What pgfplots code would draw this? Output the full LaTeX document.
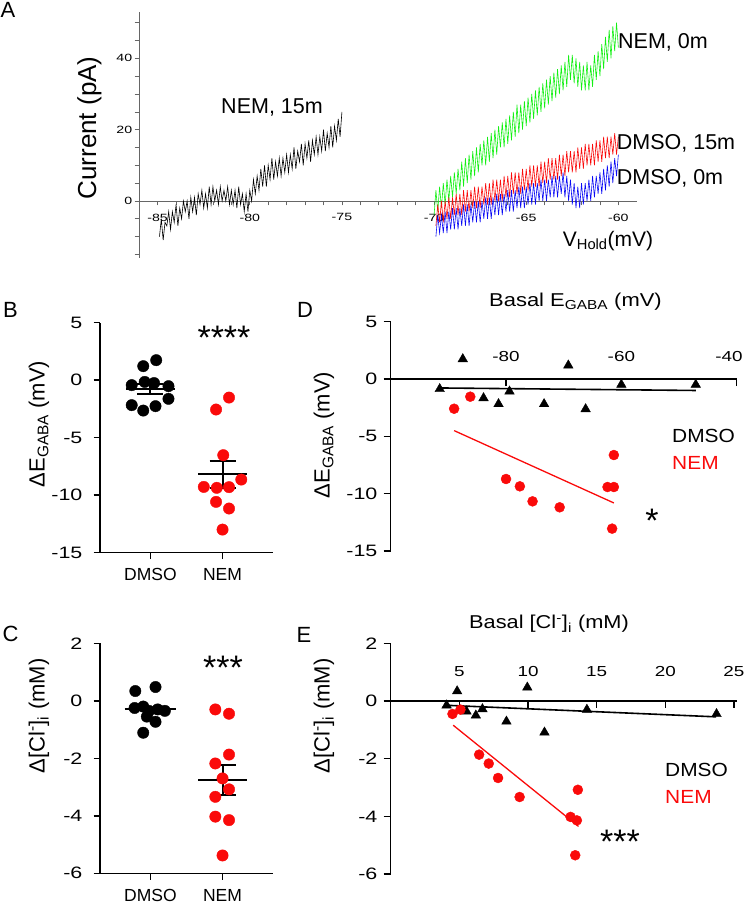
\documentclass[border=0pt]{standalone}
\usepackage{pgfplots}
\pgfplotsset{compat=1.18}
\usepackage{fontspec}
\setmainfont{Liberation Sans}
\newcommand\fs[1]{\fontsize{#1}{#1}\selectfont}
\definecolor{myred}{RGB}{250,10,10}
\definecolor{mygreen}{RGB}{20,240,20}
\definecolor{myblue}{RGB}{10,10,245}
\pgfplotsset{
  every non boxed x axis/.append style={x axis line style={-}},
  every non boxed y axis/.append style={y axis line style={-}},
  common/.style={scale only axis, anchor=south west, clip=false,
    tick style={line width=1.4pt, black},
    /pgf/number format/assume math mode=true,
    tick label style={font=\fs{16.5}, xscale=1.3},
    hide obscured x ticks=false, hide obscured y ticks=false},
  nolinetips/.style={axis line style={line width=1.4pt, black}, x axis line style={-}, y axis line style={-}},
}
\begin{document}
\begin{tikzpicture}[x=1pt,y=1pt]
\useasboundingbox (0,0) rectangle (745,908);

% ---------------- Panel A
\begin{axis}[scale only axis, anchor=south west, at={(139.2pt,650pt)}, width=497.6pt, height=246pt,
  xmin=-86.0, xmax=-59.0, ymin=-16, ymax=53, clip=false,
  axis x line=middle, axis y line=left,
  axis line style={line width=0.6pt, black!60}, x axis line style={-}, y axis line style={-},
  xtick={-85,-80,...,-60}, ytick={0,20,40},
  minor xtick={-84,-83,-82,-81,-79,-78,-77,-76,-74,-73,-72,-71,-69,-68,-67,-66,-64,-63,-62,-61},
  minor ytick={-15,-10,-5,5,10,15,25,30,35,45,50},
  tick align=center, major tick length=4.5pt, minor tick length=4.5pt,
  tick style={line width=0.6pt, black!60},
  x tick style={yshift=-2.25pt}, y tick style={xshift=-2.25pt},
  hide obscured x ticks=false, hide obscured y ticks=false,
  /pgf/number format/assume math mode=true,
  tick label style={font=\fs{10.5}, xscale=1.35},
  xticklabel style={yshift=-7pt},
]
\addplot[mygreen, line width=0.6pt] coordinates {
(-70.0,-4) (-69.9,3) (-69.8,-3) (-69.7,4) (-69.6,-2) (-69.5,5) (-69.4,-1) (-69.3,6) (-69.2,0) (-69.1,7)
(-69.0,1) (-68.9,8) (-68.8,2) (-68.7,9) (-68.6,3) (-68.5,11) (-68.4,4) (-68.3,12) (-68.2,5) (-68.1,13)
(-68.0,6) (-67.9,14) (-67.8,7) (-67.7,15) (-67.6,8) (-67.5,16) (-67.4,10) (-67.3,17) (-67.2,10) (-67.1,18)
(-67.0,11) (-66.9,19) (-66.8,12) (-66.7,20) (-66.6,13) (-66.5,21) (-66.4,15) (-66.3,22) (-66.2,15) (-66.1,23)
(-66.0,16) (-65.9,24) (-65.8,17) (-65.7,25) (-65.6,18) (-65.5,27) (-65.4,19) (-65.3,27) (-65.2,20) (-65.1,28)
(-65.0,21) (-64.9,29) (-64.8,22) (-64.7,30) (-64.6,23) (-64.5,31) (-64.4,24) (-64.3,32) (-64.2,25) (-64.1,33)
(-64.0,26) (-63.9,34) (-63.8,27) (-63.7,35) (-63.6,28) (-63.5,36) (-63.4,29) (-63.3,37) (-63.2,30) (-63.1,38)
(-63.0,31) (-62.9,39) (-62.8,32) (-62.7,41) (-62.6,34) (-62.5,41) (-62.4,33) (-62.3,40) (-62.2,32) (-62.1,39)
(-62.0,31) (-61.9,38) (-61.8,31) (-61.7,39) (-61.6,31) (-61.5,38) (-61.4,32) (-61.3,41) (-61.2,34) (-61.1,42)
(-61.0,35) (-60.9,44) (-60.8,37) (-60.7,46) (-60.6,39) (-60.5,48) (-60.4,40) (-60.3,49) (-60.2,42) (-60.1,50) (-60.0,43)};
\addplot[myred, line width=0.6pt] coordinates {
(-69.9,-7) (-69.8,-1) (-69.7,-6) (-69.6,0) (-69.5,-6) (-69.4,0) (-69.3,-5) (-69.2,1) (-69.1,-5) (-69.0,1)
(-68.9,-4) (-68.8,2) (-68.7,-4) (-68.6,2) (-68.5,-4) (-68.4,3) (-68.3,-3) (-68.2,3) (-68.1,-3) (-68.0,3)
(-67.9,-2) (-67.8,4) (-67.7,-2) (-67.6,4) (-67.5,-2) (-67.4,4) (-67.3,-1) (-67.2,5) (-67.1,-1) (-67.0,5)
(-66.9,-1) (-66.8,6) (-66.7,0) (-66.6,6) (-66.5,0) (-66.4,6) (-66.3,0) (-66.2,7) (-66.1,1) (-66.0,7)
(-65.9,1) (-65.8,8) (-65.7,2) (-65.6,8) (-65.5,2) (-65.4,8) (-65.3,2) (-65.2,9) (-65.1,3) (-65.0,9)
(-64.9,3) (-64.8,10) (-64.7,4) (-64.6,10) (-64.5,4) (-64.4,10) (-64.3,4) (-64.2,11) (-64.1,5) (-64.0,11)
(-63.9,5) (-63.8,12) (-63.7,6) (-63.6,12) (-63.5,6) (-63.4,12) (-63.3,6) (-63.2,13) (-63.1,7) (-63.0,13)
(-62.9,7) (-62.8,14) (-62.7,8) (-62.6,14) (-62.5,8) (-62.4,14) (-62.3,8) (-62.2,15) (-62.1,9) (-62.0,15)
(-61.9,9) (-61.8,16) (-61.7,10) (-61.6,16) (-61.5,10) (-61.4,16) (-61.3,10) (-61.2,17) (-61.1,11) (-61.0,17)
(-60.9,11) (-60.8,18) (-60.7,12) (-60.6,18) (-60.5,12) (-60.4,18) (-60.3,13) (-60.2,19) (-60.1,13) (-60.0,18)};
\addplot[myblue, line width=0.6pt] coordinates {
(-69.9,-10) (-69.8,-4) (-69.7,-9) (-69.6,-4) (-69.5,-9) (-69.4,-3) (-69.3,-9) (-69.2,-3) (-69.1,-8) (-69.0,-2)
(-68.9,-8) (-68.8,-2) (-68.7,-8) (-68.6,-2) (-68.5,-7) (-68.4,-1) (-68.3,-7) (-68.2,-1) (-68.1,-7) (-68.0,-1)
(-67.9,-6) (-67.8,0) (-67.7,-6) (-67.6,0) (-67.5,-6) (-67.4,0) (-67.3,-5) (-67.2,1) (-67.1,-5) (-67.0,1)
(-66.9,-5) (-66.8,1) (-66.7,-4) (-66.6,2) (-66.5,-4) (-66.4,2) (-66.3,-4) (-66.2,2) (-66.1,-3) (-66.0,3)
(-65.9,-3) (-65.8,3) (-65.7,-3) (-65.6,3) (-65.5,-2) (-65.4,4) (-65.3,-2) (-65.2,4) (-65.1,-2) (-65.0,4)
(-64.9,-1) (-64.8,5) (-64.7,-1) (-64.6,5) (-64.5,-1) (-64.4,5) (-64.3,0) (-64.2,6) (-64.1,0) (-64.0,6)
(-63.9,0) (-63.8,6) (-63.7,1) (-63.6,7) (-63.5,1) (-63.4,7) (-63.3,1) (-63.2,7) (-63.1,2) (-63.0,8)
(-62.9,1) (-62.8,7) (-62.7,0) (-62.6,6) (-62.5,-1) (-62.4,5) (-62.3,-2) (-62.2,4) (-62.1,-2) (-62.0,5)
(-61.9,-1) (-61.8,5) (-61.7,0) (-61.6,6) (-61.5,0) (-61.4,7) (-61.3,1) (-61.2,7) (-61.1,2) (-61.0,8)
(-60.9,2) (-60.8,9) (-60.7,3) (-60.6,10) (-60.5,4) (-60.4,11) (-60.3,5) (-60.2,12) (-60.1,7) (-60.0,13)};
\addplot[black, line width=0.6pt] coordinates {
(-84.9,-10) (-84.8,-5) (-84.7,-11) (-84.6,-6) (-84.5,-7) (-84.4,-3) (-84.3,-8) (-84.2,-3) (-84.1,-6) (-84.0,-1)
(-83.9,-7) (-83.8,-2) (-83.7,-5) (-83.6,0) (-83.5,-3) (-83.4,0) (-83.3,-5) (-83.2,1) (-83.1,-3) (-83.0,1)
(-82.9,-4) (-82.8,2) (-82.7,-1) (-82.6,3) (-82.5,-2) (-82.4,2) (-82.3,-2) (-82.2,4) (-82.1,-1) (-82.0,4)
(-81.9,0) (-81.8,3) (-81.7,-1) (-81.6,4) (-81.5,0) (-81.4,3) (-81.3,0) (-81.2,4) (-81.1,-1) (-81.0,3)
(-80.9,-1) (-80.8,3) (-80.7,-2) (-80.6,4) (-80.5,-1) (-80.4,2) (-80.3,-3) (-80.2,2) (-80.1,-3) (-80.0,3)
(-79.9,0) (-79.8,6) (-79.7,2) (-79.6,7) (-79.5,3) (-79.4,9) (-79.3,4) (-79.2,10) (-79.1,4) (-79.0,10)
(-78.9,6) (-78.8,12) (-78.7,6) (-78.6,11) (-78.5,7) (-78.4,12) (-78.3,7) (-78.2,12) (-78.1,8) (-78.0,13)
(-77.9,8) (-77.8,13) (-77.7,9) (-77.6,15) (-77.5,9) (-77.4,14) (-77.3,11) (-77.2,16) (-77.1,10) (-77.0,16)
(-76.9,12) (-76.8,17) (-76.7,11) (-76.6,17) (-76.5,13) (-76.4,18) (-76.3,13) (-76.2,18) (-76.1,14) (-76.0,20)
(-75.9,14) (-75.8,19) (-75.7,15) (-75.6,21) (-75.5,15) (-75.4,21) (-75.3,17) (-75.2,23) (-75.1,18) (-75.0,25)};
\end{axis}

% ---------------- Panel B
\begin{axis}[common, at={(100pt,355.3pt)}, width=173pt, height=230pt,
  xmin=0.3, xmax=2.7, ymin=-15, ymax=5, axis lines=left, nolinetips,
  xtick={1,2}, xticklabels={DMSO,NEM}, ytick={-15,-10,-5,0,5},
  tick align=outside, major tick length=6.5pt,
  yticklabel style={xshift=-5pt},
  xticklabel style={font=\fs{17.5}, xscale=1/1.3, yshift=-6pt}]
\addplot[only marks, mark=*, mark size=5.7pt, black] coordinates {
(0.74,-0.43) (0.9,1.22) (1.08,1.74) (1.25,-0.52) (0.92,-0.15) (1.05,-0.25)
(0.74,-2.17) (0.9,-2.64) (1.07,-2.26) (1.25,-1.62)};
\addplot[only marks, mark=*, mark size=5.7pt, myred, mark options={draw=myred, fill=myred}] coordinates {
(2.09,-1.51) (1.91,-2.55) (2.01,-6.52) (1.74,-9.28) (1.92,-9.36) (2.09,-9.3)
(2.26,-8.64) (1.91,-10.58) (2.09,-11.16) (2.0,-12.99)};
\addplot[black, line width=2pt] coordinates {(0.66,-0.8) (1.34,-0.8)};
\addplot[black, line width=2pt] coordinates {(1,-0.36) (1,-1.24)};
\addplot[black, line width=2pt] coordinates {(0.82,-0.36) (1.18,-0.36)};
\addplot[black, line width=2pt] coordinates {(0.82,-1.24) (1.18,-1.24)};
\addplot[black, line width=2pt] coordinates {(1.66,-8.2) (2.34,-8.2)};
\addplot[black, line width=2pt] coordinates {(2,-7.04) (2,-9.36)};
\addplot[black, line width=2pt] coordinates {(1.82,-7.04) (2.18,-7.04)};
\addplot[black, line width=2pt] coordinates {(1.82,-9.36) (2.18,-9.36)};
\end{axis}

% ---------------- Panel C
\begin{axis}[common, at={(100pt,34.7pt)}, width=173pt, height=230pt,
  xmin=0.3, xmax=2.7, ymin=-6, ymax=2, axis lines=left, nolinetips,
  xtick={1,2}, xticklabels={DMSO,NEM}, ytick={-6,-4,-2,0,2},
  tick align=outside, major tick length=6.5pt,
  yticklabel style={xshift=-5pt},
  xticklabel style={font=\fs{17.5}, xscale=1/1.3, yshift=-6pt}]
\addplot[only marks, mark=*, mark size=5.7pt, black] coordinates {
(0.79,0.34) (1.07,0.48) (0.9,-1.11) (1.07,-0.73) (0.78,-0.25) (0.9,-0.2)
(0.98,-0.35) (1.1,-0.3) (1.2,-0.35) (0.95,-0.55)};
\addplot[only marks, mark=*, mark size=5.7pt, myred, mark options={draw=myred, fill=myred}] coordinates {
(1.9,-0.30) (2.09,-0.45) (2.09,-1.87) (1.9,-2.18) (2.0,-2.70) (2.09,-3.08)
(1.9,-3.34) (1.9,-4.03) (2.09,-4.15) (2.0,-5.38)};
\addplot[black, line width=2pt] coordinates {(0.64,-0.3) (1.36,-0.3)};
\addplot[black, line width=2pt] coordinates {(1,-0.17) (1,-0.43)};
\addplot[black, line width=2pt] coordinates {(1.66,-2.74) (2.34,-2.74)};
\addplot[black, line width=2pt] coordinates {(2,-2.22) (2,-3.26)};
\addplot[black, line width=2pt] coordinates {(1.82,-2.22) (2.18,-2.22)};
\addplot[black, line width=2pt] coordinates {(1.82,-3.26) (2.18,-3.26)};
\end{axis}

% ---------------- Panel D
\begin{axis}[common, at={(390.7pt,357pt)}, width=346pt, height=229.3pt,
  xmin=-100, xmax=-40, ymin=-15, ymax=5,
  axis x line=middle, axis y line=left, nolinetips,
  xtick={-80,-60}, extra x ticks={-40},
  extra x tick style={xticklabel style={xshift=-6pt}},
  ytick={-15,-10,-5,0,5},
  tick align=center, major tick length=7pt,
  x tick style={yshift=-3.5pt}, y tick style={xshift=-3.5pt},
  yticklabel style={xshift=-4pt},
  xticklabel style={font=\fs{14.5}, anchor=south, yshift=17pt}]
\addplot[only marks, mark=triangle*, mark size=5.5pt, black] coordinates {
(-91.5,-0.87) (-87.5,1.74) (-83.9,-1.66) (-81.3,-2.18) (-79.4,-1.08)
(-73.4,-2.18) (-69.2,1.19) (-66.2,-2.62) (-60,-0.49) (-47.1,-0.49)};
\addplot[black, line width=1.6pt] coordinates {(-91.5,-0.78) (-47.1,-1.0)};
\addplot[only marks, mark=*, mark size=5pt, myred, mark options={draw=myred, fill=myred}] coordinates {
(-89,-2.59) (-86.2,-1.54) (-80,-8.72) (-77.6,-9.36) (-75.4,-10.67)
(-70.7,-11.19) (-62.4,-9.42) (-61.3,-9.42) (-61.3,-6.63) (-61.6,-13.05)};
\addplot[myred, line width=1.3pt] coordinates {(-89,-4.5) (-61.3,-10.81)};
\end{axis}

% ---------------- Panel E
\begin{axis}[common, at={(390.7pt,34pt)}, width=346pt, height=230.7pt,
  xmin=0, xmax=25.2, ymin=-6, ymax=2,
  axis x line=middle, axis y line=left, nolinetips,
  xtick={5,10,15,20,25}, ytick={-6,-4,-2,0,2},
  tick align=center, major tick length=7pt,
  x tick style={yshift=-3.5pt}, y tick style={xshift=-3.5pt},
  yticklabel style={xshift=-4pt},
  xticklabel style={font=\fs{14.5}, anchor=south, yshift=24pt}]
\addplot[only marks, mark=triangle*, mark size=5.5pt, black] coordinates {
(4.07,-0.15) (4.84,0.34) (5.52,-0.36) (6.2,-0.5) (6.68,-0.28)
(8.43,-0.71) (9.95,0.47) (11.2,-1.09) (14.29,-0.3) (23.73,-0.45)};
\addplot[black, line width=1.6pt] coordinates {(4.07,-0.15) (23.7,-0.55)};
\addplot[only marks, mark=*, mark size=5pt, myred, mark options={draw=myred, fill=myred}] coordinates {
(4.5,-0.45) (5.08,-0.3) (6.44,-1.86) (7.14,-2.17) (7.82,-2.67)
(9.39,-3.33) (13.63,-3.08) (13.1,-4.02) (13.56,-4.14) (13.44,-5.35)};
\addplot[myred, line width=1.3pt] coordinates {(4.55,-0.84) (13.68,-4.35)};
\end{axis}

% ---------------- Text
\node[font=\fs{22}] at (8,898) {A};
\node[font=\fs{22}] at (10.5,598.5) {B};
\node[font=\fs{22}] at (10.5,274) {C};
\node[font=\fs{22}] at (305,598.5) {D};
\node[font=\fs{22}] at (304,273.5) {E};

\node[font=\fs{21.5}] at (272,801) {NEM, 15m};
\node[font=\fs{21.5}] at (663,865.5) {NEM, 0m};
\node[font=\fs{21.5}] at (676,765) {DMSO, 15m};
\node[font=\fs{21.5}] at (670,730) {DMSO, 0m};
\node[font=\fs{21}] at (608,667) {V\textsubscript{Hold}(mV)};
\node[font=\fs{26}, rotate=90] at (89.5,780) {Current (pA)};

\node[font=\fs{22}, rotate=90] at (39,484) {ΔE\textsubscript{GABA} (mV)};
\node[font=\fs{22}, rotate=90] at (39,192) {Δ[Cl\textsuperscript{-}]\textsubscript{i} (mM)};
\node[font=\fs{22}, rotate=90] at (324,473) {ΔE\textsubscript{GABA} (mV)};
\node[font=\fs{22}, rotate=90] at (324,192) {Δ[Cl\textsuperscript{-}]\textsubscript{i} (mM)};

\node[font=\fs{18.6}, xscale=1.18] at (575.5,606) {Basal E\textsubscript{GABA} (mV)};
\node[font=\fs{18.6}, xscale=1.17] at (549,284) {Basal [Cl\textsuperscript{-}]\textsubscript{i} (mM)};

\node[font=\fs{19}, xscale=1.1, anchor=west, inner sep=0pt] at (672,472) {DMSO};
\node[font=\fs{19}, xscale=1.1, anchor=west, inner sep=0pt, text=myred] at (672,445) {NEM};
\node[font=\fs{19}, xscale=1.1, anchor=west, inner sep=0pt] at (665,138) {DMSO};
\node[font=\fs{19}, xscale=1.1, anchor=west, inner sep=0pt, text=myred] at (665,111) {NEM};

\node[font=\fs{34}, anchor=base, inner sep=0pt] at (224,558.5) {****};
\node[font=\fs{34}, anchor=base, inner sep=0pt] at (223,228.5) {***};
\node[font=\fs{34}, anchor=base, inner sep=0pt] at (652,375.5) {*};
\node[font=\fs{34}, anchor=base, inner sep=0pt] at (620,54.5) {***};
\end{tikzpicture}
\end{document}
